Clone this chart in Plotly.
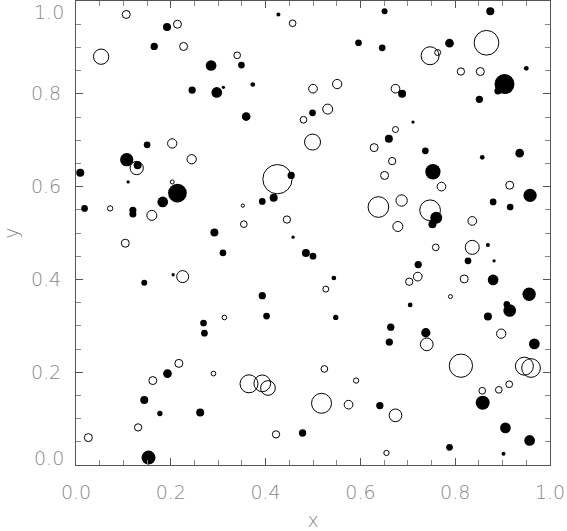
import plotly.graph_objects as go

# filled points: x, y, marker diameter (px)
filled_x = [0.192, 0.427, 0.165, 0.285, 0.349, 0.373, 0.245, 0.297, 0.311, 0.359,
            0.150, 0.107, 0.130, 0.009, 0.110, 0.214, 0.183, 0.454, 0.393, 0.417,
            0.018, 0.120, 0.120, 0.292, 0.458,
            0.651, 0.874, 0.596, 0.646, 0.788, 0.950, 0.904, 0.890, 0.688, 0.851,
            0.499, 0.711, 0.660, 0.737, 0.857, 0.936, 0.753, 0.958, 0.880, 0.916,
            0.760, 0.752,
            0.310, 0.485, 0.500, 0.205, 0.144, 0.393, 0.402, 0.269, 0.271, 0.193,
            0.144, 0.177, 0.262, 0.478, 0.153,
            0.869, 0.722, 0.827, 0.882, 0.544, 0.880, 0.956, 0.705, 0.909, 0.915,
            0.548, 0.869, 0.664, 0.738, 0.661, 0.967, 0.641, 0.858, 0.906, 0.957,
            0.788, 0.902]
filled_y = [0.944, 0.971, 0.902, 0.861, 0.862, 0.820, 0.808, 0.803, 0.814, 0.751,
            0.690, 0.658, 0.646, 0.630, 0.610, 0.586, 0.567, 0.624, 0.568, 0.576,
            0.553, 0.549, 0.541, 0.501, 0.491,
            0.978, 0.978, 0.910, 0.899, 0.909, 0.855, 0.821, 0.806, 0.800, 0.788,
            0.759, 0.739, 0.703, 0.677, 0.663, 0.672, 0.632, 0.581, 0.567, 0.556,
            0.533, 0.519,
            0.457, 0.457, 0.450, 0.410, 0.393, 0.365, 0.321, 0.306, 0.284, 0.197,
            0.140, 0.111, 0.113, 0.069, 0.016,
            0.474, 0.432, 0.440, 0.440, 0.403, 0.399, 0.368, 0.345, 0.346, 0.333,
            0.318, 0.320, 0.297, 0.285, 0.265, 0.261, 0.128, 0.134, 0.080, 0.053,
            0.038, 0.024]
filled_s = [8, 4, 7.3, 10.7, 6.7, 4.7, 7.3, 10.7, 3.3, 8.7,
            6.7, 13.3, 8, 8, 3.3, 18.7, 10.7, 7.3, 6.7, 8,
            6.7, 7, 7, 8, 3.3,
            6, 8, 6.7, 6.7, 8.7, 4.7, 20, 7, 8, 7.3,
            6.7, 3.3, 8, 6.7, 4.7, 8.7, 15.3, 13.3, 6.7, 6.7,
            12, 8,
            6.7, 8, 6.7, 3.3, 6, 7.3, 6.7, 6.7, 6.7, 8.7,
            8, 5.3, 8, 7.3, 14,
            4, 7.3, 6.7, 3.3, 4.7, 10.7, 13.3, 4.7, 6.7, 12.7,
            5.3, 8, 7.3, 9.3, 7.3, 10.7, 7.3, 14, 10.7, 10.7,
            6.7, 4]

# open points
open_x = [0.106, 0.214, 0.457, 0.227, 0.053, 0.340, 0.480, 0.203, 0.128, 0.244,
          0.203, 0.425, 0.352, 0.072, 0.160, 0.445, 0.354,
          0.866, 0.747, 0.763, 0.812, 0.853, 0.500, 0.551, 0.674, 0.531, 0.674,
          0.499, 0.629, 0.667, 0.651, 0.771, 0.915, 0.638, 0.687, 0.747, 0.679,
          0.836,
          0.104, 0.225, 0.313, 0.217, 0.290, 0.162, 0.365, 0.393, 0.405, 0.131,
          0.026, 0.422,
          0.759, 0.836, 0.527, 0.721, 0.703, 0.819, 0.790, 0.897, 0.740, 0.524,
          0.812, 0.946, 0.960, 0.591, 0.857, 0.892, 0.914, 0.518, 0.575, 0.674,
          0.655]
open_y = [0.971, 0.950, 0.952, 0.902, 0.880, 0.883, 0.744, 0.693, 0.640, 0.659,
          0.610, 0.616, 0.559, 0.553, 0.538, 0.529, 0.519,
          0.910, 0.882, 0.889, 0.848, 0.848, 0.811, 0.821, 0.811, 0.767, 0.723,
          0.696, 0.684, 0.655, 0.624, 0.600, 0.603, 0.556, 0.570, 0.549, 0.514,
          0.526,
          0.478, 0.406, 0.318, 0.219, 0.197, 0.182, 0.175, 0.176, 0.166, 0.081,
          0.059, 0.066,
          0.469, 0.469, 0.379, 0.406, 0.395, 0.401, 0.363, 0.283, 0.260, 0.207,
          0.214, 0.213, 0.209, 0.182, 0.160, 0.162, 0.174, 0.133, 0.130, 0.107,
          0.026]
open_s = [8, 8, 6.7, 8, 15.3, 6.7, 6.7, 9.3, 13.3, 9.3,
          4, 29.3, 3.3, 5.3, 10, 7.3, 6.7,
          24.7, 18, 6, 7.3, 8, 8.7, 9.3, 8.7, 10, 6,
          16, 8, 7.3, 8, 8.7, 8, 20.7, 11.3, 20.7, 10,
          8.7,
          8, 12, 4.7, 8, 4.7, 8, 18, 16.7, 14.7, 7.3,
          8, 7.3,
          6.7, 14, 6, 8.7, 7.3, 8, 4, 9.3, 12.7, 6.7,
          23.3, 18, 18.7, 5.3, 6.7, 6.7, 6.7, 20, 8.7, 12.7,
          5.3]

tick_vals = [0.0, 0.2, 0.4, 0.6, 0.8, 1.0]
x_tick_text = ['0.0', '0.2', '0.4', '0.6', '0.8', '1.0']
# end labels of y axis are drawn as annotations, nudged inside like the original
y_tick_text = ['', '0.2', '0.4', '0.6', '0.8', '']

fig = go.Figure()
fig.add_trace(go.Scatter(
    x=open_x, y=open_y, mode='markers', hoverinfo='none',
    marker=dict(symbol='circle-open', size=open_s, color='black', opacity=1,
                line=dict(width=1, color='black'))
))
fig.add_trace(go.Scatter(
    x=filled_x, y=filled_y, mode='markers', hoverinfo='none',
    marker=dict(symbol='circle', size=filled_s, color='black', opacity=1,
                line=dict(width=0))
))

axis_font = dict(family='DejaVu Sans', size=19, color='#888888', weight=200)
axis_common = dict(
    range=[0, 1], tickmode='array', tickvals=tick_vals,
    ticks='inside', ticklen=7, tickcolor='#555',
    minor=dict(dtick=0.05, tick0=0, ticks='inside', ticklen=5, tickcolor='#888'),
    showline=True, linecolor='#555', linewidth=1, mirror='ticks',
    showgrid=False, zeroline=False, tickfont=axis_font,
    title_font=axis_font,
)

fig.update_layout(
    width=567, height=531,
    showlegend=False,
    plot_bgcolor='white', paper_bgcolor='white',
    margin=dict(l=76, r=17, t=0, b=63),
    xaxis=dict(axis_common, ticktext=x_tick_text,
               title=dict(text='x', standoff=15), ticklabelstandoff=10),
    yaxis=dict(axis_common, ticktext=y_tick_text,
               title=dict(text='y', standoff=14), ticklabelstandoff=10),
)

for val, shift in [(0.0, 7), (1.0, -11)]:
    fig.add_annotation(
        text=f'{val:.1f}', xref='paper', yref='y', x=0, y=val,
        xanchor='right', yanchor='middle', xshift=-10, yshift=shift,
        showarrow=False, font=axis_font,
    )

# drop the page's default body margin so the figure sits at the window corner
fig.write_html("out.html", config={'displayModeBar': False},
               post_script="document.body.style.margin='0';")
